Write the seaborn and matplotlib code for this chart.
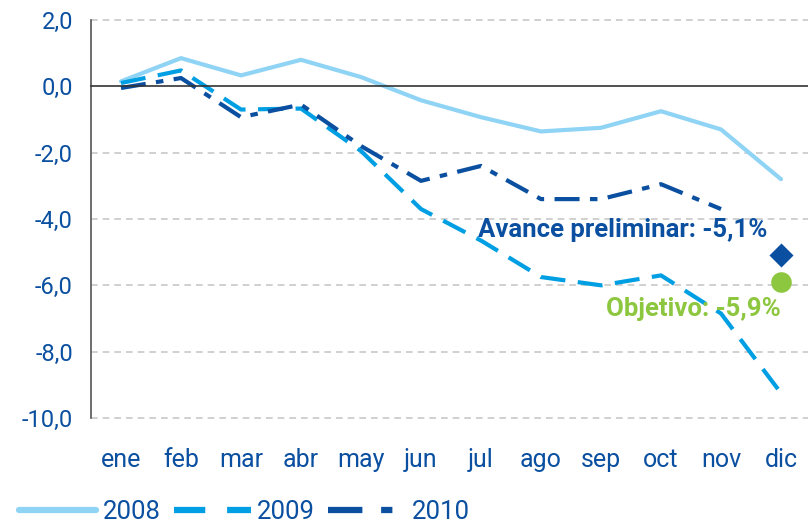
import matplotlib
matplotlib.use("Agg")
import matplotlib.pyplot as plt
import matplotlib.transforms as mtransforms
from matplotlib.ticker import FuncFormatter, FixedLocator
from matplotlib.lines import Line2D
import seaborn as sns
import numpy as np
import pandas as pd

# datos
meses = ['ene', 'feb', 'mar', 'abr', 'may', 'jun', 'jul', 'ago', 'sep', 'oct', 'nov', 'dic']
v2008 = [0.15, 0.85, 0.33, 0.80, 0.28, -0.42, -0.93, -1.36, -1.25, -0.75, -1.30, -2.80]
v2009 = [0.10, 0.48, -0.70, -0.67, -1.95, -3.70, -4.65, -5.75, -6.00, -5.70, -6.85, -9.25]
v2010 = [-0.05, 0.25, -0.93, -0.55, -1.80, -2.85, -2.40, -3.40, -3.40, -2.95, -3.70, np.nan]
years = ['2008', '2009', '2010']
avance = -5.1
objetivo = -5.9
yticks = [2, 0, -2, -4, -6, -8, -10]

dark = '#0a4fa0'
colors = {'2008': '#8fd3f5', '2009': '#009fe3', '2010': dark}
green = '#8dc63f'

sns.set_style("white")
plt.rcParams['font.family'] = ['Roboto', 'DejaVu Sans']

df = pd.DataFrame({'mes': meses * 3,
                   'x': list(range(12)) * 3,
                   'valor': v2008 + v2009 + v2010,
                   'año': [y for y in years for _ in meses]})

fig = plt.figure(figsize=(8.08, 5.23), dpi=100)
ax = fig.add_axes([91 / 808, 105 / 523, 720 / 808, 398 / 523])

sns.lineplot(data=df, x='x', y='valor', hue='año', style='año',
             palette=colors,
             dashes={'2008': '', '2009': (6, 3), '2010': (6, 2.5, 1.8, 2.5)},
             linewidth=3, ax=ax, legend=False)

# marcadores finales
ax.scatter([len(meses) - 1], [avance], marker='D', s=150, color=dark, zorder=5, linewidths=0)
ax.scatter([len(meses) - 1], [objetivo], marker='o', s=220, color=green, zorder=5, linewidths=0)
ax.text(len(meses) - 1.23, avance + 0.76, 'Avance preliminar: -5,1%', ha='right', va='center',
        color=dark, fontsize=18.5, fontweight='bold')
ax.text(len(meses) - 1, objetivo - 0.8, 'Objetivo: -5,9%', ha='right', va='center',
        color=green, fontsize=18.5, fontweight='bold')

ax.set_xlim(-0.5, len(meses) - 0.5)
ax.set_ylim(-10, 2)

# ejes
for s in ['top', 'right']:
    ax.spines[s].set_visible(False)
ax.spines['bottom'].set_position(('data', 0))
ax.spines['bottom'].set_color('#333333')
ax.spines['bottom'].set_linewidth(1.2)
ax.spines['left'].set_color('#555555')
ax.spines['left'].set_linewidth(1.2)

ax.xaxis.set_major_locator(FixedLocator([i + 0.5 for i in range(len(meses))]))
ax.tick_params(axis='x', length=6, width=1.2, color='#444444', labelbottom=False, direction='out')
ax.set_yticks(yticks)
ax.yaxis.set_major_formatter(FuncFormatter(lambda v, p: f"{v:.1f}".replace('.', ',')))
ax.tick_params(axis='y', length=6, width=1.2, color='#444444', labelsize=17, labelcolor=dark, pad=7)
ax.set_xlabel('')
ax.set_ylabel('')

for yv in yticks:
    if yv != 0:
        ax.axhline(yv, color='#c8c8c8', lw=1.2, ls=(0, (4, 3)), zorder=0, clip_on=False)

trans = mtransforms.blended_transform_factory(ax.transData, ax.transAxes)
for i, m in enumerate(meses):
    ax.text(i, -0.105, m, transform=trans, ha='center', va='center', fontsize=18, color=dark)

# leyenda
dash_map = {'2008': '-', '2009': (0, (5, 3.5)), '2010': (0, (5.5, 3, 1.8, 3))}
handles = [Line2D([0], [0], color=colors[y], lw=4.5, ls=dash_map[y]) for y in years]
fig.legend(handles, years, loc='center left', bbox_to_anchor=(0.024, 0.021), ncol=3,
           frameon=False, fontsize=18.5, handlelength=3.0, handletextpad=0.25,
           columnspacing=0.5, labelcolor=dark, borderpad=0, borderaxespad=0)

fig.savefig('out.png', dpi=100)
